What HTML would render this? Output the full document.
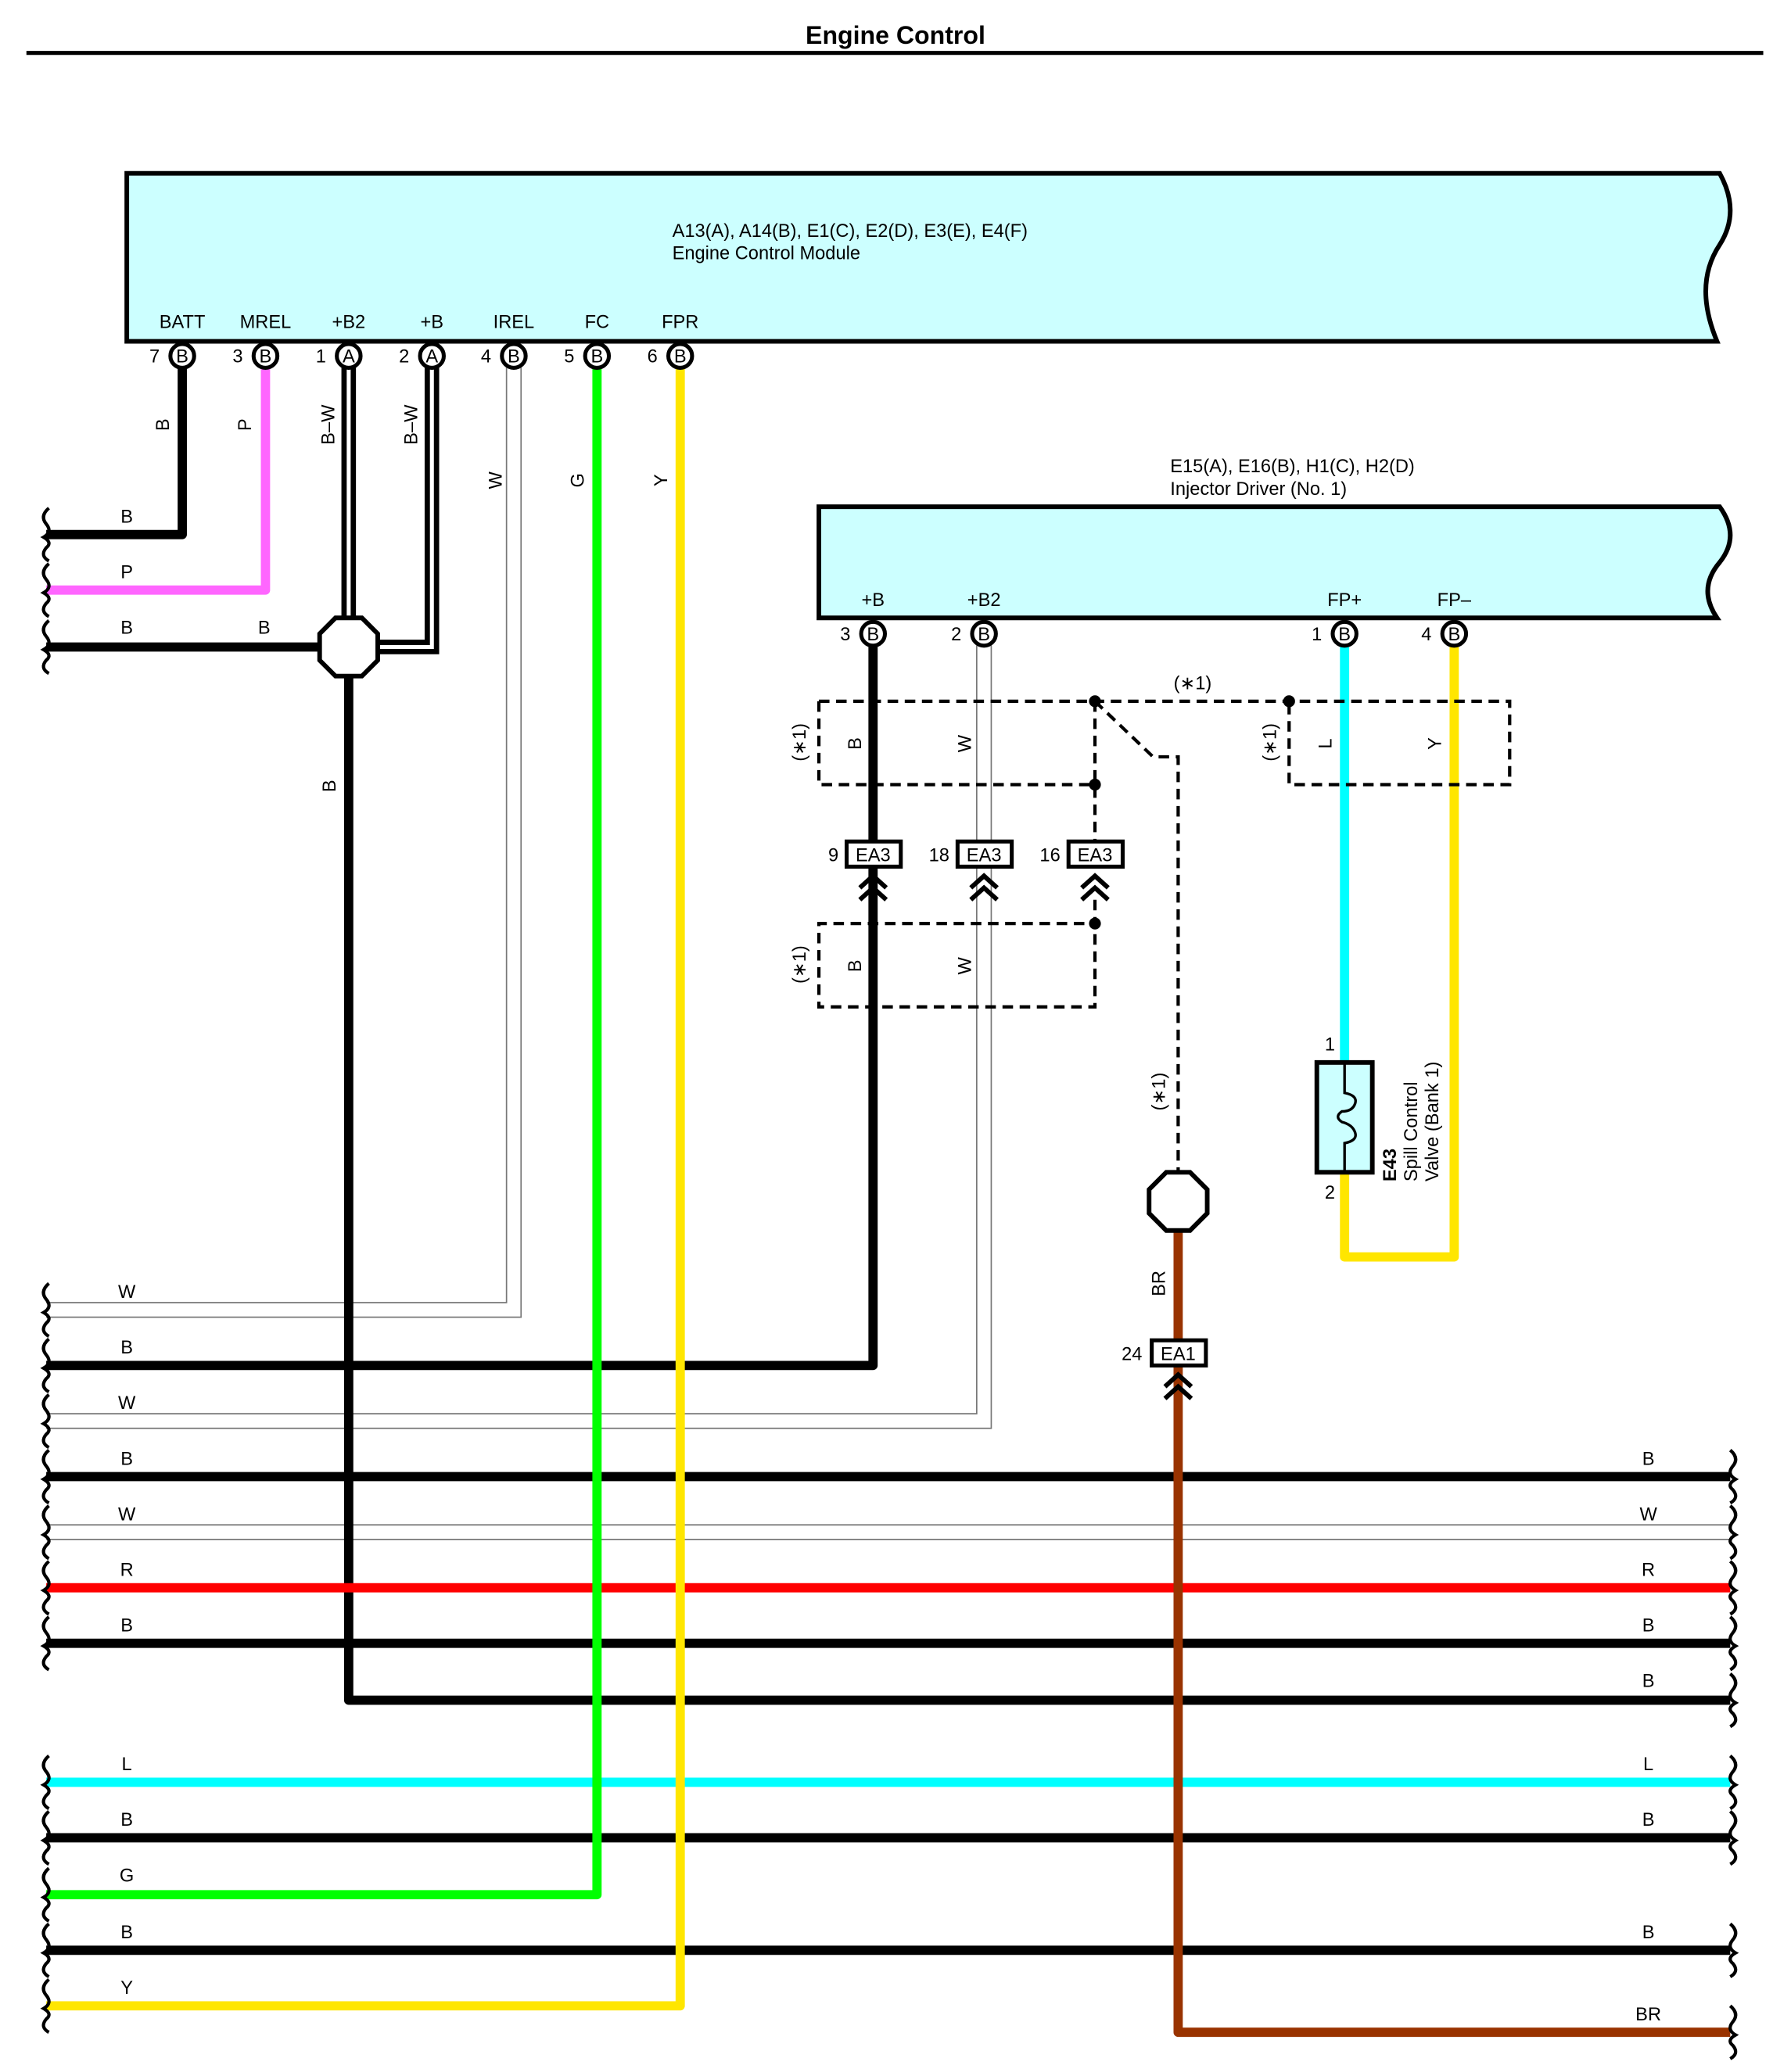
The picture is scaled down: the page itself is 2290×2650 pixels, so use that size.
<!DOCTYPE html>
<html><head><meta charset="utf-8"><style>
html,body{margin:0;padding:0;background:#fff;}
svg{display:block;}
text{font-family:"Liberation Sans",sans-serif;fill:#000;}
</style></head><body>
<svg width="2290" height="2650" viewBox="0 0 1356 1566" preserveAspectRatio="none" xmlns="http://www.w3.org/2000/svg">
<defs>
<g id="brk"><path d="M37,-20 Q30,-14 35,-8 Q40,-2 33,2 Q40,6 35,10 Q30,16 37,20" fill="none" stroke="#000" stroke-width="2.5"/></g>
<g id="brkR"><path d="M1310,-20 Q1317,-14 1312,-8 Q1307,-2 1314,2 Q1307,6 1312,10 Q1317,16 1310,20" fill="none" stroke="#000" stroke-width="2.5"/></g>
<g id="chev"><polyline points="-10,8 0,-1 10,8" fill="none" stroke="#000" stroke-width="3.5"/><polyline points="-10,17 0,8 10,17" fill="none" stroke="#000" stroke-width="3.5"/></g>
</defs>
<text x="678" y="33" font-size="19" font-weight="bold" text-anchor="middle">Engine Control</text>
<line x1="20" y1="40" x2="1335" y2="40" stroke="#000" stroke-width="3"/>

<path d="M96,131 L1302,131 Q1318,160 1302,185 Q1282,215 1300,258 L96,258 Z" fill="#ccffff" stroke="#000" stroke-width="3.5"/>
<text x="509" y="179" font-size="14">A13(A), A14(B), E1(C), E2(D), E3(E), E4(F)</text>
<text x="509" y="196" font-size="14">Engine Control Module</text>
<g font-size="14" text-anchor="middle">
<text x="138" y="248">BATT</text><text x="201" y="248">MREL</text><text x="264" y="248">+B2</text>
<text x="327" y="248">+B</text><text x="389" y="248">IREL</text><text x="452" y="248">FC</text><text x="515" y="248">FPR</text>
</g>

<g fill="none" stroke-linejoin="miter">
<path d="M389,278 V990 H35" stroke="#777" stroke-width="12"/>
<path d="M389,278 V990 H35" stroke="#fff" stroke-width="10"/>
<path d="M745,488 V1074 H35" stroke="#777" stroke-width="12"/>
<path d="M745,488 V1074 H35" stroke="#fff" stroke-width="10"/>
<path d="M35,1158 H1310" stroke="#777" stroke-width="12"/>
<path d="M35,1158 H1310" stroke="#fff" stroke-width="10"/>
</g>

<g fill="none" stroke-width="7" stroke-linejoin="round">
<path d="M138,278 V404 H35" stroke="#000"/>
<path d="M201,278 V446 H35" stroke="#ff66ff"/>
<path d="M35,489 H264" stroke="#000"/>
<path d="M264,489 V1285 H1310" stroke="#000"/>
<path d="M661,488 V1032 H35" stroke="#000"/>
<path d="M35,1116 H1310" stroke="#000"/>
<path d="M35,1200 H1310" stroke="#ff0000"/>
<path d="M35,1242 H1310" stroke="#000"/>
<path d="M35,1347 H1310" stroke="#00ffff"/>
<path d="M35,1389 H1310" stroke="#000"/>
<path d="M452,278 V1432 H35" stroke="#00ff00"/>
<path d="M35,1474 H1310" stroke="#000"/>
<path d="M515,278 V1516 H35" stroke="#ffe600"/>
<path d="M892,930 V1536 H1310" stroke="#993300"/>
<path d="M1018,488 V803" stroke="#00ffff"/>
<path d="M1018,886 V950 H1101 V488" stroke="#ffe600"/>
</g>
<g fill="none">
<path d="M264,278 V489" stroke="#000" stroke-width="11"/>
<path d="M264,278 V489" stroke="#fff" stroke-width="3"/>
<path d="M327,278 V489 H264" stroke="#000" stroke-width="11"/>
<path d="M327,278 V489 H264" stroke="#fff" stroke-width="3"/>
</g>
<polygon points="254,467 274,467 286,479 286,499 274,511 254,511 242,499 242,479" fill="#fff" stroke="#000" stroke-width="3.5"/>

<g font-size="14" text-anchor="middle">
<g fill="#fff" stroke="#000" stroke-width="3">
<circle cx="138" cy="269" r="9"/><circle cx="201" cy="269" r="9"/><circle cx="264" cy="269" r="9"/><circle cx="327" cy="269" r="9"/>
<circle cx="389" cy="269" r="9"/><circle cx="452" cy="269" r="9"/><circle cx="515" cy="269" r="9"/>
</g>
<text x="138" y="274">B</text><text x="201" y="274">B</text><text x="264" y="274">A</text><text x="327" y="274">A</text>
<text x="389" y="274">B</text><text x="452" y="274">B</text><text x="515" y="274">B</text>
<text x="117" y="274">7</text><text x="180" y="274">3</text><text x="243" y="274">1</text><text x="306" y="274">2</text>
<text x="368" y="274">4</text><text x="431" y="274">5</text><text x="494" y="274">6</text>
</g>

<g font-size="14" text-anchor="middle">
<text transform="translate(128,321) rotate(-90)">B</text>
<text transform="translate(190,321) rotate(-90)">P</text>
<text transform="translate(253,321) rotate(-90)">B–W</text>
<text transform="translate(316,321) rotate(-90)">B–W</text>
<text transform="translate(380,363) rotate(-90)">W</text>
<text transform="translate(442,363) rotate(-90)">G</text>
<text transform="translate(505,363) rotate(-90)">Y</text>
<text transform="translate(254,594) rotate(-90)">B</text>
<text transform="translate(652,562) rotate(-90)">B</text>
<text transform="translate(735,562) rotate(-90)">W</text>
<text transform="translate(652,730) rotate(-90)">B</text>
<text transform="translate(735,730) rotate(-90)">W</text>
<text transform="translate(1008,562) rotate(-90)">L</text>
<text transform="translate(1091,562) rotate(-90)">Y</text>
<text transform="translate(882,970) rotate(-90)">BR</text>
<text transform="translate(610,561) rotate(-90)">(∗1)</text>
<text transform="translate(610,729) rotate(-90)">(∗1)</text>
<text transform="translate(966,561) rotate(-90)">(∗1)</text>
<text transform="translate(882,825) rotate(-90)">(∗1)</text>
</g>

<g font-size="14" text-anchor="middle">
<text x="96" y="395">B</text><text x="96" y="437">P</text><text x="96" y="479">B</text><text x="200" y="479">B</text>
<text x="96" y="981">W</text><text x="96" y="1023">B</text><text x="96" y="1065">W</text><text x="96" y="1107">B</text>
<text x="96" y="1149">W</text><text x="96" y="1191">R</text><text x="96" y="1233">B</text>
<text x="96" y="1338">L</text><text x="96" y="1380">B</text><text x="96" y="1422">G</text><text x="96" y="1465">B</text><text x="96" y="1507">Y</text>
<text x="1248" y="1107">B</text><text x="1248" y="1149">W</text><text x="1248" y="1191">R</text><text x="1248" y="1233">B</text>
<text x="1248" y="1275">B</text><text x="1248" y="1338">L</text><text x="1248" y="1380">B</text><text x="1248" y="1465">B</text><text x="1248" y="1527">BR</text>
<text x="903" y="521">(∗1)</text>
</g>

<use href="#brk" y="404"/><use href="#brk" y="446"/><use href="#brk" y="489"/>
<use href="#brk" y="990"/><use href="#brk" y="1032"/><use href="#brk" y="1074"/><use href="#brk" y="1116"/>
<use href="#brk" y="1158"/><use href="#brk" y="1200"/><use href="#brk" y="1242"/>
<use href="#brk" y="1347"/><use href="#brk" y="1389"/><use href="#brk" y="1432"/><use href="#brk" y="1474"/><use href="#brk" y="1516"/>
<use href="#brkR" y="1116"/><use href="#brkR" y="1158"/><use href="#brkR" y="1200"/><use href="#brkR" y="1242"/><use href="#brkR" y="1285"/>
<use href="#brkR" y="1347"/><use href="#brkR" y="1389"/><use href="#brkR" y="1474"/><use href="#brkR" y="1536"/>

<path d="M620,383 L1302,383 Q1318,405 1302,425 Q1285,445 1300,467 L620,467 Z" fill="#ccffff" stroke="#000" stroke-width="3.5"/>
<text x="886" y="357" font-size="14">E15(A), E16(B), H1(C), H2(D)</text>
<text x="886" y="374" font-size="14">Injector Driver (No. 1)</text>
<g font-size="14" text-anchor="middle">
<text x="661" y="458">+B</text><text x="745" y="458">+B2</text><text x="1018" y="458">FP+</text><text x="1101" y="458">FP–</text>
<g fill="#fff" stroke="#000" stroke-width="3">
<circle cx="661" cy="479" r="9"/><circle cx="745" cy="479" r="9"/><circle cx="1018" cy="479" r="9"/><circle cx="1101" cy="479" r="9"/>
</g>
<text x="661" y="484">B</text><text x="745" y="484">B</text><text x="1018" y="484">B</text><text x="1101" y="484">B</text>
<text x="640" y="484">3</text><text x="724" y="484">2</text><text x="997" y="484">1</text><text x="1080" y="484">4</text>
</g>

<g fill="none" stroke="#000" stroke-width="2.5" stroke-dasharray="8,5">
<path d="M620,530 H1143 V593 H976 V530"/>
<path d="M620,530 V593 H829"/>
<path d="M829,530 V636"/>
<path d="M829,680 V761 H620 V698 H829"/>
<path d="M829,530 L873,572 H892 V886"/>
</g>
<g fill="#000"><circle cx="829" cy="530" r="4.5"/><circle cx="829" cy="593" r="4.5"/><circle cx="976" cy="530" r="4.5"/><circle cx="829" cy="698" r="4.5"/></g>

<g font-size="14" text-anchor="middle">
<rect x="641" y="636" width="41" height="19" fill="#fff" stroke="#000" stroke-width="3"/><text x="661" y="651">EA3</text><text x="631" y="651">9</text>
<rect x="725" y="636" width="41" height="19" fill="#fff" stroke="#000" stroke-width="3"/><text x="745" y="651">EA3</text><text x="711" y="651">18</text>
<rect x="809" y="636" width="41" height="19" fill="#fff" stroke="#000" stroke-width="3"/><text x="829" y="651">EA3</text><text x="795" y="651">16</text>
<rect x="872" y="1013" width="41" height="19" fill="#fff" stroke="#000" stroke-width="3"/><text x="892" y="1028">EA1</text><text x="857" y="1028">24</text>
</g>
<use href="#chev" x="661" y="663"/><use href="#chev" x="745" y="663"/><use href="#chev" x="829" y="663"/><use href="#chev" x="892" y="1040"/>

<polygon points="883,886 901,886 914,899 914,917 901,930 883,930 870,917 870,899" fill="#fff" stroke="#000" stroke-width="3.5"/>

<rect x="997" y="803" width="42" height="83" fill="#ccffff" stroke="#000" stroke-width="3.5"/>
<path d="M1018,803 V826 Q1028,828 1026,834 Q1024,840 1016,840 Q1010,844 1016,848 Q1024,850 1026,856 Q1028,862 1018,864 V886" fill="none" stroke="#000" stroke-width="2"/>
<g font-size="14">
<text x="1003" y="794">1</text><text x="1003" y="906">2</text>
<text transform="translate(1057,893) rotate(-90)" font-weight="bold">E43</text>
<text transform="translate(1073,893) rotate(-90)">Spill Control</text>
<text transform="translate(1089,893) rotate(-90)">Valve (Bank 1)</text>
</g>
</svg>
</body></html>
